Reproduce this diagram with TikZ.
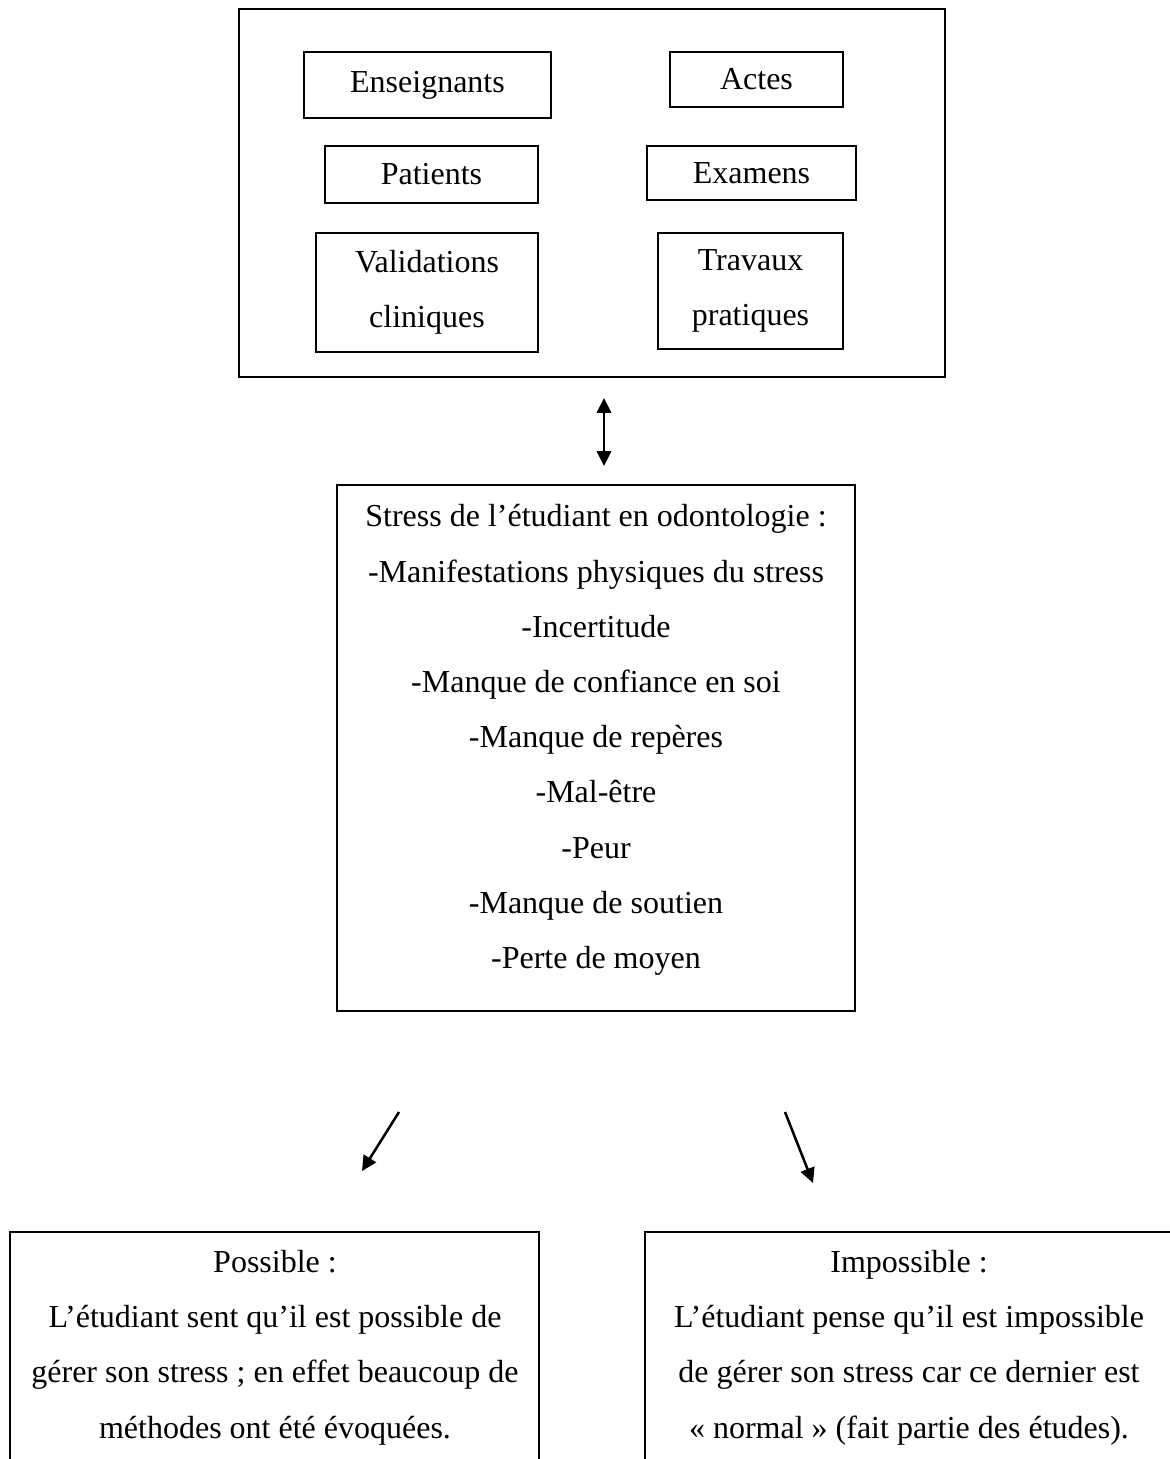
\documentclass[tikz,border=0pt]{standalone}
\usepackage{fontspec}
\setmainfont{Liberation Serif}
\usetikzlibrary{arrows.meta}
\begin{document}
\begin{tikzpicture}[x=0.375pt,y=-0.375pt,
  box/.style={draw,line width=0.75pt,inner sep=0pt,align=center,font=\fontsize{12}{20.7}\selectfont},
  txt/.style={inner sep=0pt,align=center,font=\fontsize{12}{20.7}\selectfont},
  arr/.style={line width=0.95pt,-{Triangle[length=5.6pt,width=5.4pt]}},
  darr/.style={line width=0.95pt,{Triangle[length=5.6pt,width=5.4pt]}-{Triangle[length=5.6pt,width=5.4pt]}}]
\useasboundingbox (0,0) rectangle (1170,1459);
\fill[white] (0,0) rectangle (1170,1459);
% top context box
\node[box,minimum width=264.75pt,minimum height=138pt] (ctx) at (592,193) {};
\node[box,minimum width=92.625pt,minimum height=24.75pt] (ens) at (427.5,85) {Enseignants};
\node[box,minimum width=64.875pt,minimum height=20.625pt] (actes) at (756.5,79.5) {Actes};
\node[box,minimum width=79.875pt,minimum height=21.375pt] (pat) at (431.5,174.5) {Patients};
\node[box,minimum width=78.375pt,minimum height=20.25pt] (exa) at (751.5,173) {Examens};
\node[box,minimum width=83.25pt,minimum height=44.625pt] (val) at (427,292.5) {Validations\\cliniques};
\node[box,minimum width=69.375pt,minimum height=43.5pt] (trav) at (750.5,291) {Travaux\\pratiques};
% double arrow
\coordinate (da1) at (604,398);
\coordinate (da2) at (604,466);
\draw[darr] (da1) -- (da2);
% stress box
\node[box,minimum width=194.25pt,minimum height=197.25pt] (stress) at (596,748) {};
\node[txt] (stresstext) at (596,740) {Stress de l’étudiant en odontologie :\\-Manifestations physiques du stress\\-Incertitude\\-Manque de confiance en soi\\-Manque de repères\\-Mal-être\\-Peur\\-Manque de soutien\\-Perte de moyen};
% diagonal arrows
\coordinate (la1) at (399,1112);
\coordinate (la2) at (362,1171);
\coordinate (ra1) at (785,1112);
\coordinate (ra2) at (813,1183);
\draw[arr] (la1) -- (la2);
\draw[arr] (ra1) -- (ra2);
% bottom boxes (cut by the page edge)
\node[box,minimum width=198.375pt,minimum height=108pt] (poss) at (274.5,1376) {};
\node[box,minimum width=198.375pt,minimum height=108pt] (imp) at (909.5,1376) {};
\node[txt] (posstext) at (275,1347.5) {Possible :\\L’étudiant sent qu’il est possible de\\gérer son stress ; en effet beaucoup de\\méthodes ont été évoquées.};
\node[txt] (imptext) at (909,1347.5) {Impossible :\\L’étudiant pense qu’il est impossible\\de gérer son stress car ce dernier est\\« normal » (fait partie des études).};
\end{tikzpicture}
\end{document}
